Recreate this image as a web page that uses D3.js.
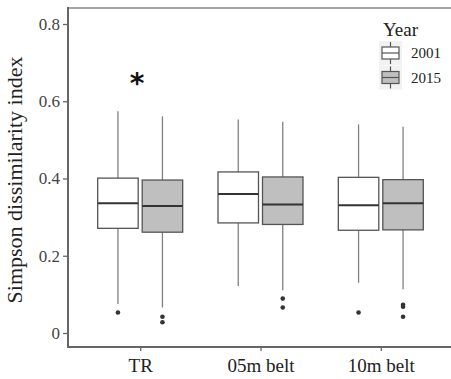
<!DOCTYPE html>
<html lang="en">
<head>
    <meta charset="UTF-8"/>
    <title>Simpson dissimilarity boxplot</title>
    <script src="https://d3js.org/d3.v7.min.js"></script>
    <style>
        html, body {
            margin: 0;
            padding: 0;
            background: white;
        }
    </style>
</head>
<body>
    <div class="chart-container"></div>
    <script>
        var w = 451;
        var h = 379;
        var serif = "Liberation Serif";

        var categories = ["TR", "05m belt", "10m belt"];
        var years = ["2001", "2015"];
        var yTicks = [0, 0.2, 0.4, 0.6, 0.8];

        // box stats per category
        var lower2001  = [0.075, 0.122, 0.130];
        var q1_2001    = [0.271, 0.285, 0.266];
        var median2001 = [0.336, 0.360, 0.331];
        var q3_2001    = [0.401, 0.417, 0.403];
        var upper2001  = [0.574, 0.553, 0.540];
        var outliers2001 = [[0.053], [], [0.053]];

        var lower2015  = [0.066, 0.111, 0.113];
        var q1_2015    = [0.261, 0.281, 0.267];
        var median2015 = [0.329, 0.333, 0.336];
        var q3_2015    = [0.396, 0.404, 0.397];
        var upper2015  = [0.561, 0.547, 0.534];
        var outliers2015 = [[0.042, 0.028], [0.089, 0.066], [0.073, 0.068, 0.042]];

        var fills = {"2001": "white", "2015": "#bfbfbf"};

        var boxes = [];
        categories.forEach(function(c, i) {
            boxes.push({cat: c, year: "2001", lo: lower2001[i], q1: q1_2001[i], med: median2001[i], q3: q3_2001[i], hi: upper2001[i], out: outliers2001[i]});
            boxes.push({cat: c, year: "2015", lo: lower2015[i], q1: q1_2015[i], med: median2015[i], q3: q3_2015[i], hi: upper2015[i], out: outliers2015[i]});
        });

        // panel edges (right edge runs past the picture)
        var pLeft = 68, pRight = 453, pTop = 8, pBottom = 347;

        var x = d3.scalePoint()
                  .domain(categories)
                  .range([pLeft, pRight])
                  .padding(0.6);
        var x1 = d3.scaleBand()
                   .domain(years)
                   .range([-42.5, 42.5])
                   .paddingInner(0.09);
        var y = d3.scaleLinear()
                  .domain([0, 0.8])
                  .range([333, 24]);

        var svg = d3.select(".chart-container")
                    .append("svg")
                    .attr("width", w)
                    .attr("height", h);

        // top border of the panel
        svg.append("line")
            .attr("x1", pLeft).attr("x2", w)
            .attr("y1", pTop).attr("y2", pTop)
            .attr("stroke", "#8a8a8a")
            .attr("stroke-width", 1.6);

        var g = svg.selectAll("g.box")
            .data(boxes)
            .enter()
            .append("g")
            .attr("class", "box")
            .attr("transform", function(d) {
                return "translate(" + (x(d.cat) + x1(d.year)) + ",0)";
            });

        var bw = x1.bandwidth();

        g.append("line") // whiskers
            .attr("x1", bw / 2).attr("x2", bw / 2)
            .attr("y1", function(d) { return y(d.hi); })
            .attr("y2", function(d) { return y(d.lo); })
            .attr("stroke", "#808080")
            .attr("stroke-width", 1.3);

        g.append("rect")
            .attr("x", 0)
            .attr("width", bw)
            .attr("y", function(d) { return y(d.q3); })
            .attr("height", function(d) { return y(d.q1) - y(d.q3); })
            .attr("fill", function(d) { return fills[d.year]; })
            .attr("stroke", "#555")
            .attr("stroke-width", 1.3);

        g.append("line") // median
            .attr("x1", 0).attr("x2", bw)
            .attr("y1", function(d) { return y(d.med); })
            .attr("y2", function(d) { return y(d.med); })
            .attr("stroke", "#333")
            .attr("stroke-width", 2);

        g.selectAll("circle")
            .data(function(d) { return d.out; })
            .enter()
            .append("circle")
            .attr("cx", bw / 2)
            .attr("cy", function(v) { return y(v); })
            .attr("r", 2.3)
            .attr("fill", "#333");

        // axes
        var yAxis = d3.axisLeft(y).tickValues(yTicks).tickSize(5).tickPadding(3)
                      .tickFormat(function(d) { return d === 0 ? "0" : d3.format(".1f")(d); });
        var yG = svg.append("g")
            .attr("transform", "translate(" + pLeft + ",0)")
            .call(yAxis);
        yG.select(".domain").remove();
        yG.append("line")
            .attr("x1", 0).attr("x2", 0)
            .attr("y1", pTop - 1).attr("y2", pBottom + 1)
            .attr("stroke", "#666").attr("stroke-width", 2);
        yG.selectAll(".tick line").attr("stroke", "#666").attr("stroke-width", 1.3);
        yG.selectAll(".tick text")
            .attr("font-family", serif)
            .attr("font-size", 17)
            .attr("fill", "#444");

        var xAxis = d3.axisBottom(x).tickSize(4).tickPadding(8);
        var xG = svg.append("g")
            .attr("transform", "translate(0," + pBottom + ")")
            .call(xAxis);
        xG.select(".domain").remove();
        xG.append("line")
            .attr("x1", pLeft - 1).attr("x2", w)
            .attr("y1", 0).attr("y2", 0)
            .attr("stroke", "#666").attr("stroke-width", 2);
        xG.selectAll(".tick line").attr("stroke", "#666").attr("stroke-width", 1.3);
        xG.selectAll(".tick text")
            .attr("font-family", serif)
            .attr("font-size", 19)
            .attr("fill", "#222");

        // y axis title
        svg.append("text")
            .attr("transform", "translate(22,180) rotate(-90)")
            .attr("text-anchor", "middle")
            .attr("font-family", serif)
            .attr("font-size", 22)
            .attr("fill", "#222")
            .text("Simpson dissimilarity index");

        // significance mark
        svg.append("text")
            .attr("x", x("TR") - 3)
            .attr("y", 93)
            .attr("text-anchor", "middle")
            .attr("font-size", 28)
            .attr("font-family", "DejaVu Sans")
            .attr("font-weight", "bold")
            .attr("fill", "#111")
            .text("*");

        // legend
        var legend = svg.append("g")
            .attr("transform", "translate(379,0)")
            .attr("font-family", serif);
        legend.append("text")
            .attr("x", 4).attr("y", 36)
            .attr("font-size", 19)
            .attr("fill", "#222")
            .text("Year");

        var keys = legend.selectAll("g.key")
            .data(years)
            .enter()
            .append("g")
            .attr("class", "key")
            .attr("transform", function(d, i) { return "translate(0," + (41 + i * 24.5) + ")"; });
        keys.append("rect")
            .attr("width", 23).attr("height", 24)
            .attr("fill", "#f2f2f2");
        keys.append("line")
            .attr("x1", 11.5).attr("x2", 11.5)
            .attr("y1", 1).attr("y2", 23)
            .attr("stroke", "#555").attr("stroke-width", 1.2);
        keys.append("rect")
            .attr("x", 3).attr("y", 6)
            .attr("width", 17).attr("height", 12)
            .attr("fill", function(d) { return fills[d]; })
            .attr("stroke", "#555").attr("stroke-width", 1.2);
        keys.append("line")
            .attr("x1", 3).attr("x2", 20)
            .attr("y1", 12).attr("y2", 12)
            .attr("stroke", "#555").attr("stroke-width", 1.2);
        keys.append("text")
            .attr("x", 32).attr("y", 17)
            .attr("font-size", 15)
            .attr("fill", "#222")
            .text(function(d) { return d; });
    </script>
</body>
</html>
